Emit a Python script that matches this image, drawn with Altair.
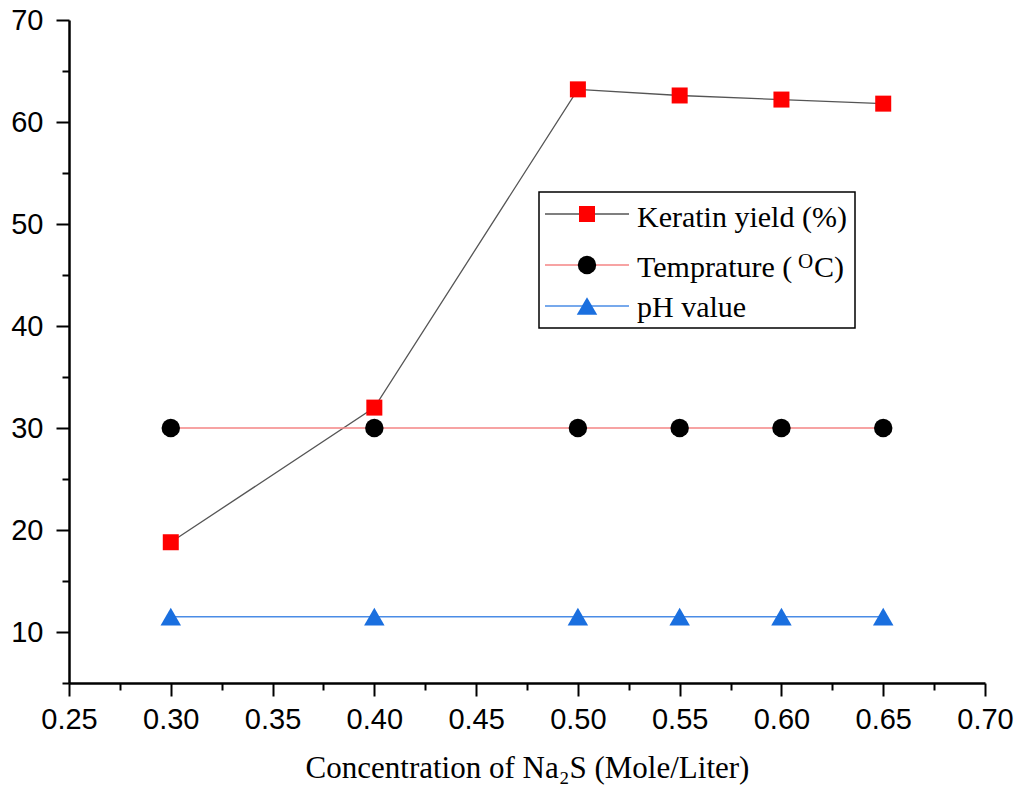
import altair as alt
import pandas as pd

# ---- data ----
conc = [0.30, 0.40, 0.50, 0.55, 0.60, 0.65]
keratin_yield = [18.8, 32.0, 63.2, 62.6, 62.2, 61.8]
temperature = [30, 30, 30, 30, 30, 30]
ph_value = [11.5, 11.5, 11.5, 11.5, 11.5, 11.5]

series_names = ["Keratin yield (%)", "Temprature (OC)", "pH value"]
series_values = [keratin_yield, temperature, ph_value]

x_ticks = [0.25, 0.275, 0.30, 0.325, 0.35, 0.375, 0.40, 0.425, 0.45, 0.475,
           0.50, 0.525, 0.55, 0.575, 0.60, 0.625, 0.65, 0.675, 0.70]
y_ticks = [5, 10, 15, 20, 25, 30, 35, 40, 45, 50, 55, 60, 65, 70]

# ---- styles ----
line_colors = ["#555555", "#F48585", "#4A8CE6"]
marker_colors = ["#FF0000", "#000000", "#1A6FDF"]
marker_shapes = ["square", "circle", "triangle-up"]
marker_sizes = [256, 340, 420]
line_widths = [1.3, 1.5, 1.5]

W, H = 916, 663

x_scale = alt.Scale(domain=[0.25, 0.70], nice=False, zero=False)
y_scale = alt.Scale(domain=[5, 70], nice=False, zero=False)

x_axis = alt.Axis(
    values=x_ticks,
    labelExpr="abs(datum.value*20 - round(datum.value*20)) < 0.0001 ? format(datum.value, '.2f') : ''",
    tickSize={"condition": {"test": "abs(datum.value*20 - round(datum.value*20)) < 0.0001", "value": 13}, "value": 7},
    labelPadding=9,
    labelOverlap=False,
    labelFlush=False,
    labelBound=False,
    title="Concentration of Na\u2082S (Mole/Liter)",
    titleFont="Liberation Serif",
    titleFontSize=31,
    titleFontWeight="normal",
    titleColor="black",
    titleY=85,
    titleBaseline="middle",
    grid=False,
)
y_axis = alt.Axis(
    values=y_ticks,
    labelExpr="datum.value % 10 == 0 ? datum.value : ''",
    tickSize={"condition": {"test": "datum.value % 10 == 0", "value": 13}, "value": 7},
    labelPadding=13,
    labelOverlap=False,
    labelFlush=False,
    labelBound=False,
    title="",
    grid=False,
)

layers = []
for i, name in enumerate(series_names):
    df = pd.DataFrame({"conc": conc, "value": series_values[i], "series": name})
    line = alt.Chart(df).mark_line(color=line_colors[i], strokeWidth=line_widths[i]).encode(
        x=alt.X("conc:Q", scale=x_scale, axis=x_axis),
        y=alt.Y("value:Q", scale=y_scale, axis=y_axis),
    )
    layers.append(line)
for i, name in enumerate(series_names):
    df = pd.DataFrame({"conc": conc, "value": series_values[i], "series": name})
    pts = alt.Chart(df).mark_point(
        shape=marker_shapes[i], filled=True, fill=marker_colors[i],
        size=marker_sizes[i], opacity=1, strokeWidth=0,
    ).encode(
        x=alt.X("conc:Q", scale=x_scale, axis=x_axis),
        y=alt.Y("value:Q", scale=y_scale, axis=y_axis),
    )
    layers.append(pts)

# ---- manual legend (line + marker + label) ----
one = pd.DataFrame({"k": [0]})
legend_box = alt.Chart(one).mark_rect(fillOpacity=0, stroke="black", strokeWidth=1.5).encode(
    x=alt.value(470), x2=alt.value(786), y=alt.value(172), y2=alt.value(308)
)
layers.append(legend_box)

row_y = [194, 245, 286]
text_base = [207, 257, 297]
for i in range(3):
    layers.append(alt.Chart(one).mark_rule(color=line_colors[i], strokeWidth=line_widths[i]).encode(
        x=alt.value(476), x2=alt.value(560), y=alt.value(row_y[i])
    ))
    layers.append(alt.Chart(one).mark_point(
        shape=marker_shapes[i], filled=True, fill=marker_colors[i],
        size=marker_sizes[i], opacity=1, strokeWidth=0,
    ).encode(x=alt.value(518), y=alt.value(row_y[i])))

legend_texts = ["Keratin yield (%)", "Temprature (", "pH value"]
for i in range(3):
    layers.append(alt.Chart(one).mark_text(
        text=legend_texts[i], font="Liberation Serif", fontSize=30, color="black",
        align="left", baseline="alphabetic",
    ).encode(x=alt.value(568), y=alt.value(text_base[i])))
layers.append(alt.Chart(one).mark_text(
    text="O", font="Liberation Serif", fontSize=21, color="black",
    align="left", baseline="alphabetic",
).encode(x=alt.value(729), y=alt.value(248)))
layers.append(alt.Chart(one).mark_text(
    text="C)", font="Liberation Serif", fontSize=30, color="black",
    align="left", baseline="alphabetic",
).encode(x=alt.value(745), y=alt.value(257)))

chart = alt.layer(*layers).properties(
    width=W, height=H,
    padding={"left": 69, "top": 20, "right": 33, "bottom": 102},
    autosize=alt.AutoSizeParams(type="none"),
    background="white",
).configure_view(stroke=None).configure_axis(
    domainColor="black", domainWidth=2.5, tickColor="black", tickWidth=2,
    labelFont="Liberation Sans", labelFontSize=29, labelColor="black",
)

chart.save("out.html", embed_options={"renderer": "svg", "actions": False})
